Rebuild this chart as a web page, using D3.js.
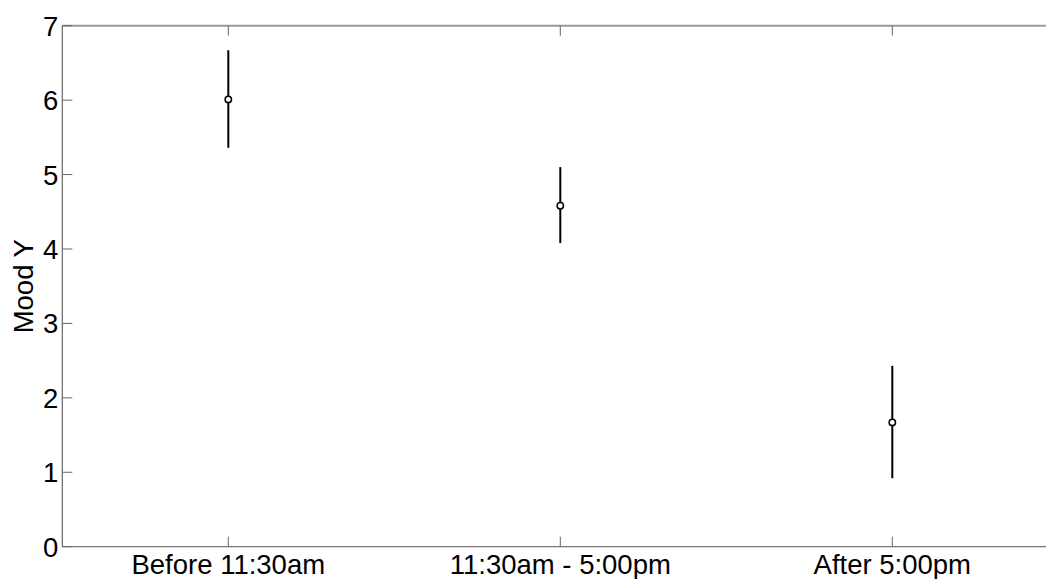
<!DOCTYPE html>
<html><head><meta charset="utf-8">
<script src="https://cdn.jsdelivr.net/npm/d3@7/dist/d3.min.js"></script>
<style>body{margin:0;background:#fff;} text{font-family:"Liberation Sans",Arial,sans-serif;}</style>
</head><body><svg id="c" width="1046" height="579"></svg>
<script>
const categories = ["Before 11:30am", "11:30am - 5:00pm", "After 5:00pm"];
const means = [6.01, 4.58, 1.67];
const upper = [6.67, 5.10, 2.43];
const lower = [5.36, 4.08, 0.92];
const yTicks = [0, 1, 2, 3, 4, 5, 6, 7];
const yLabel = "Mood Y";

const svg = d3.select("#c");
const x = d3.scaleLinear().domain([0.5, 3.5]).range([62.3, 1058.3]);
const y = d3.scaleLinear().domain([0, 7]).range([546.7, 25.7]);
const idx = categories.map((d, i) => i + 1);
const FS = 27.5;

const g = svg.append("g");
g.append("line").attr("x1", x(0.5)).attr("x2", 1046).attr("y1", y(7)).attr("y2", y(7))
  .attr("stroke", "#999").attr("stroke-width", 2);
g.append("line").attr("x1", x(0.5)).attr("x2", 1046).attr("y1", y(0)).attr("y2", y(0))
  .attr("stroke", "#777").attr("stroke-width", 1.2);
g.append("line").attr("x1", x(0.5)).attr("x2", x(0.5)).attr("y1", y(0)).attr("y2", y(7))
  .attr("stroke", "#666").attr("stroke-width", 1.2);

g.selectAll(".yt").data(yTicks).join("line")
  .attr("x1", x(0.5)).attr("x2", x(0.5) + 10)
  .attr("y1", d => y(d)).attr("y2", d => y(d)).attr("stroke", "#666").attr("stroke-width", 1);
g.selectAll(".yl").data(yTicks).join("text")
  .attr("x", x(0.5) - 4).attr("y", d => y(d) + 10)
  .attr("text-anchor", "end").attr("font-size", FS).attr("fill", "#000").text(d => d);

g.selectAll(".xtb").data(idx).join("line")
  .attr("x1", d => x(d)).attr("x2", d => x(d)).attr("y1", y(0)).attr("y2", y(0) - 10)
  .attr("stroke", "#666").attr("stroke-width", 1);
g.selectAll(".xtt").data(idx).join("line")
  .attr("x1", d => x(d)).attr("x2", d => x(d)).attr("y1", y(7)).attr("y2", y(7) + 10)
  .attr("stroke", "#666").attr("stroke-width", 1);
g.selectAll(".xl").data(categories).join("text")
  .attr("x", (d, i) => x(i + 1)).attr("y", 573.5)
  .attr("text-anchor", "middle").attr("font-size", FS).attr("fill", "#000").text(d => d);

svg.append("text").attr("transform", `translate(33,${(y(0) + y(7)) / 2}) rotate(-90)`)
  .attr("text-anchor", "middle").attr("font-size", FS).attr("fill", "#000").text(yLabel);

svg.selectAll(".eb").data(idx).join("line")
  .attr("x1", d => x(d)).attr("x2", d => x(d))
  .attr("y1", (d, i) => y(upper[i])).attr("y2", (d, i) => y(lower[i]))
  .attr("stroke", "#000").attr("stroke-width", 2);
svg.selectAll(".pt").data(idx).join("circle")
  .attr("cx", d => x(d)).attr("cy", (d, i) => y(means[i])).attr("r", 3.2)
  .attr("fill", "#fff").attr("stroke", "#000").attr("stroke-width", 1.5);
</script></body></html>
